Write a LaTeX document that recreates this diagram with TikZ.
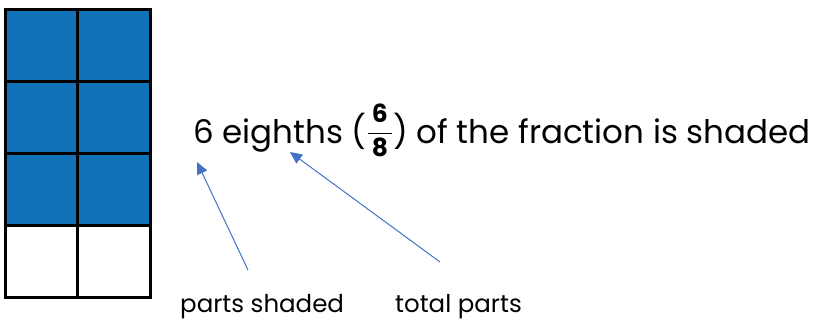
\documentclass[tikz,border=0pt]{standalone}
\usepackage{fontspec}
\setmainfont{Poppins}
\usetikzlibrary{arrows.meta}
\definecolor{cellblue}{HTML}{1071B8}
\definecolor{arrowblue}{HTML}{4472C4}
\tikzset{
  cell/.style={draw=black, line width=3pt},
  pointer/.style={draw=arrowblue, line width=1pt, -{Triangle[length=12pt,width=11pt]}},
  maintext/.style={inner sep=0pt, font=\fontsize{32.5}{36}\selectfont},
  labeltext/.style={inner sep=0pt, font=\fontsize{24.5}{27}\selectfont},
}
\newcommand{\smallfrac}{{\fontsize{25}{25}\selectfont\raisebox{3.5pt}{$\displaystyle\frac{\,\mathbf{6}\,}{\,\mathbf{8}\,}$}}}
\begin{document}
\begin{tikzpicture}[x=1pt,y=-1pt]
\useasboundingbox (0,0) rectangle (818,321);
% grid
\foreach \r in {0,1,2} {
  \foreach \c in {0,1} {
    \fill[cellblue] (5+\c*72.5,10+\r*71.75) rectangle (5+\c*72.5+72.5,10+\r*71.75+71.75);
  }
}
\draw[cell] (5,10) rectangle (150,297);
\draw[cell] (77.5,10) -- (77.5,297);
\draw[cell] (5,81.75) -- (150,81.75);
\draw[cell] (5,153.5) -- (150,153.5);
\draw[cell] (5,225.25) -- (150,225.25);
% text
\node[maintext, anchor=base west] (t1) at (193,143) {6 eighths (\smallfrac) of the fraction is shaded};
\coordinate (tip1) at (197,162);
\coordinate (tip2) at (290,152);
\node[labeltext, anchor=base west] (l1) at (180,312) {parts shaded};
\node[labeltext, anchor=base west] (l2) at (395,312) {total parts};
\coordinate (s1) at (248,270);
\coordinate (s2) at (440,262);
\draw[pointer] (s1) -- (tip1);
\draw[pointer] (s2) -- (tip2);
\end{tikzpicture}
\end{document}
